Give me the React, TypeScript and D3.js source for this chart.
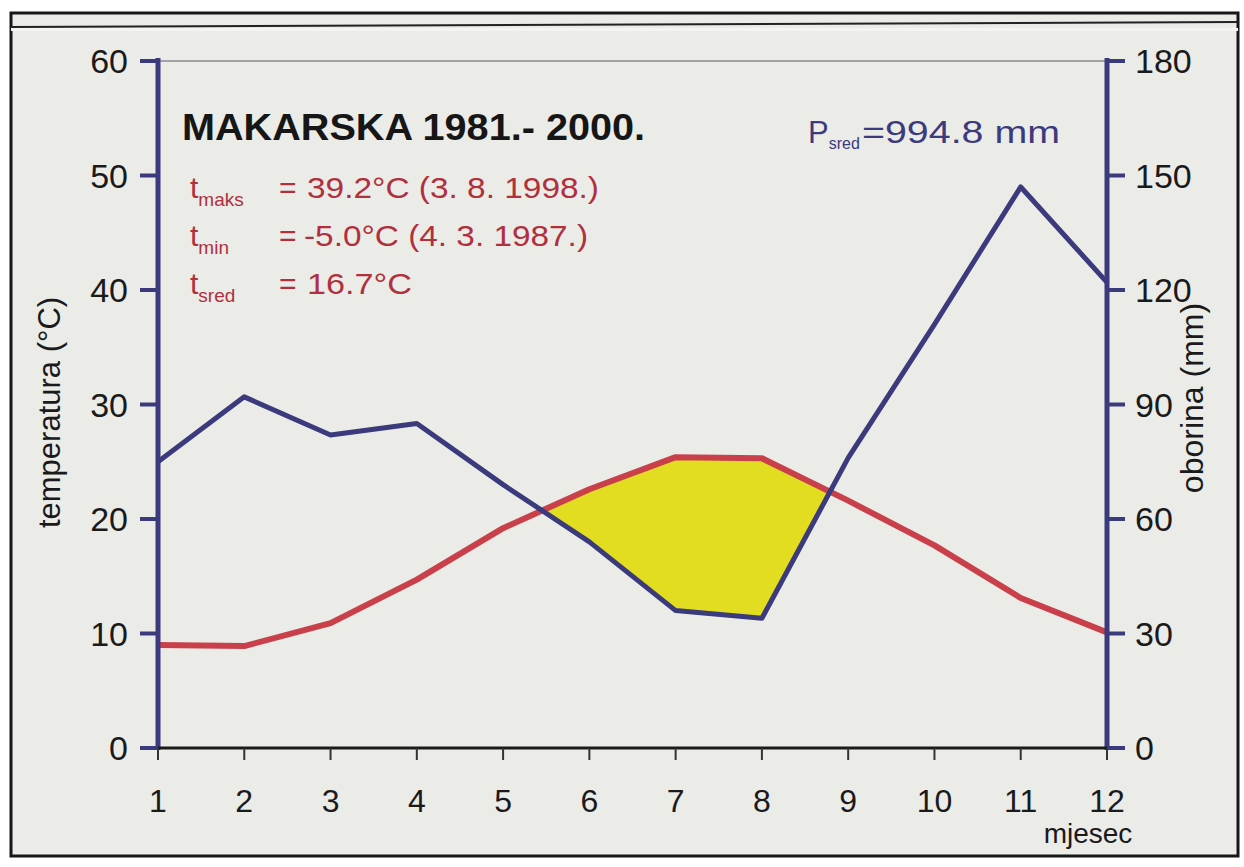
import React from "react";
import * as d3 from "d3";

const months = [1, 2, 3, 4, 5, 6, 7, 8, 9, 10, 11, 12];
const temperature = [9.0, 8.9, 10.9, 14.7, 19.2, 22.6, 25.4, 25.3, 21.6, 17.7, 13.1, 10.1];
const precipitation = [75, 92, 82, 85, 69, 54, 36, 34, 76, 111, 147, 122];
const tempTicks = [0, 10, 20, 30, 40, 50, 60];
const precTicks = [0, 30, 60, 90, 120, 150, 180];

const title = "MAKARSKA 1981.- 2000.";
const statLines = [
  { sub: "maks", value: "39.2°C (3. 8. 1998.)" },
  { sub: "min", value: "-5.0°C (4. 3. 1987.)" },
  { sub: "sred", value: "16.7°C" },
];
const precipNote = { main: "P", sub: "sred", value: "=994.8 mm" };

const FONT = "'Liberation Sans', Arial, Helvetica, sans-serif";
const BLUE = "#3b3a7c";
const RED = "#c9404b";
const YELLOW = "#e3dd22";

export default function App() {
  const W = 1244;
  const H = 867;
  const left = 158;
  const right = 1107;
  const top = 61;
  const bottom = 748;

  const x = d3.scaleLinear().domain([1, 12]).range([left, right]);
  const yT = d3.scaleLinear().domain([0, 60]).range([bottom, top]);
  const yP = d3.scaleLinear().domain([0, 180]).range([bottom, top]);

  const tempLine = d3
    .line<number>()
    .x((_, i) => x(months[i]))
    .y((d) => yT(d))(temperature) as string;
  const precLine = d3
    .line<number>()
    .x((_, i) => x(months[i]))
    .y((d) => yP(d))(precipitation) as string;

  // dry periods: where temperature curve lies above precipitation curve
  const diff = months.map((_, i) => temperature[i] * 3 - precipitation[i]);
  const polys: [number, number][][] = [];
  let cur: { top: [number, number][]; bot: [number, number][] } | null = null;
  for (let i = 0; i < months.length; i++) {
    if (diff[i] > 0) {
      if (!cur) cur = { top: [], bot: [] };
      cur.top.push([x(months[i]), yT(temperature[i])]);
      cur.bot.push([x(months[i]), yP(precipitation[i])]);
    }
    if (i < months.length - 1 && diff[i] * diff[i + 1] < 0) {
      const t = diff[i] / (diff[i] - diff[i + 1]);
      const m = months[i] + t;
      const tv = temperature[i] + t * (temperature[i + 1] - temperature[i]);
      const c: [number, number] = [x(m), yT(tv)];
      if (cur && diff[i] > 0) {
        cur.top.push(c);
        polys.push([...cur.top, ...cur.bot.slice().reverse()]);
        cur = null;
      } else {
        cur = { top: [c], bot: [c] };
      }
    }
  }
  if (cur) polys.push([...cur.top, ...cur.bot.slice().reverse()]);

  const valueLen = [292, 284, 105];

  return (
    <svg
      width={W}
      height={H}
      style={{ position: "absolute", left: 0, top: 0, display: "block" }}
      fontFamily={FONT}
    >
      <rect x={0} y={0} width={W} height={H} fill="#ffffff" />
      <rect x={11} y={13} width={1227} height={843} fill="#ebebe8" stroke="#161616" strokeWidth={3} />
      <line x1={11} y1={27} x2={1238} y2={22} stroke="#222" strokeWidth={2} />
      <rect x={11} y={28} width={1227} height={3} fill="#f4f4f2" />

      {/* top thin border */}
      <line x1={left} y1={top} x2={right} y2={top} stroke="#8a8a90" strokeWidth={1.5} />

      {/* dry area */}
      {polys.map((p, i) => (
        <polygon key={i} points={p.map((q) => q.join(",")).join(" ")} fill={YELLOW} />
      ))}

      {/* lines */}
      <path d={tempLine} fill="none" stroke={RED} strokeWidth={6} strokeLinejoin="round" />
      <path d={precLine} fill="none" stroke={BLUE} strokeWidth={5} strokeLinejoin="round" />

      {/* left axis */}
      <line x1={left} y1={top - 3} x2={left} y2={bottom + 2} stroke={BLUE} strokeWidth={5} />
      {tempTicks.map((t) => (
        <g key={"lt" + t}>
          <line x1={left - 18} y1={yT(t)} x2={left} y2={yT(t)} stroke={BLUE} strokeWidth={4} />
          <text x={left - 30} y={yT(t) + 12} textAnchor="end" fontSize={34} fill="#1a1a1a">
            {t}
          </text>
        </g>
      ))}

      {/* right axis */}
      <line x1={right} y1={top - 3} x2={right} y2={bottom + 2} stroke={BLUE} strokeWidth={5} />
      {precTicks.map((t) => (
        <g key={"rt" + t}>
          <line x1={right} y1={yP(t)} x2={right + 18} y2={yP(t)} stroke={BLUE} strokeWidth={4} />
          <text x={right + 28} y={yP(t) + 12} textAnchor="start" fontSize={34} fill="#1a1a1a">
            {t}
          </text>
        </g>
      ))}

      {/* bottom axis */}
      <line x1={left} y1={bottom} x2={right} y2={bottom} stroke="#1a1a1a" strokeWidth={3} />
      {months.map((m) => (
        <g key={"m" + m}>
          <line x1={x(m)} y1={bottom} x2={x(m)} y2={bottom + 12} stroke="#333" strokeWidth={2} />
          <text x={x(m)} y={bottom + 64} textAnchor="middle" fontSize={32} fill="#1a1a1a">
            {m}
          </text>
        </g>
      ))}
      <text x={1088} y={843} textAnchor="middle" fontSize={28} fill="#1a1a1a">
        mjesec
      </text>

      {/* axis titles */}
      <text
        transform={`translate(60, ${(top + bottom) / 2 + 8}) rotate(-90)`}
        textAnchor="middle"
        fontSize={31}
        fill="#1a1a1a"
      >
        temperatura (°C)
      </text>
      <text
        transform={`translate(1203, 398) rotate(-90)`}
        textAnchor="middle"
        fontSize={32}
        fill="#1a1a1a"
      >
        oborina (mm)
      </text>

      {/* title and stats */}
      <text
        x={182}
        y={140}
        fontSize={37}
        fontWeight="bold"
        fill="#161616"
        textLength={463}
        lengthAdjust="spacingAndGlyphs"
      >
        {title}
      </text>
      {statLines.map((s, i) => {
        const yy = 198 + i * 48;
        return (
          <g key={s.sub} fill="#b0303d">
            <text x={190} y={yy} fontSize={30}>
              t
              <tspan fontSize={19} dy={8}>
                {s.sub}
              </tspan>
            </text>
            <text x={279} y={yy} fontSize={30}>
              =
            </text>
            <text
              x={i === 1 ? 304 : 307}
              y={yy}
              fontSize={30}
              textLength={valueLen[i]}
              lengthAdjust="spacingAndGlyphs"
            >
              {s.value}
            </text>
          </g>
        );
      })}

      <text x={808} y={143} fontSize={31} fill={BLUE}>
        {precipNote.main}
        <tspan fontSize={16} dy={6}>
          {precipNote.sub}
        </tspan>
      </text>
      <text x={862} y={143} fontSize={31} fill={BLUE} textLength={198} lengthAdjust="spacingAndGlyphs">
        {precipNote.value}
      </text>
    </svg>
  );
}
